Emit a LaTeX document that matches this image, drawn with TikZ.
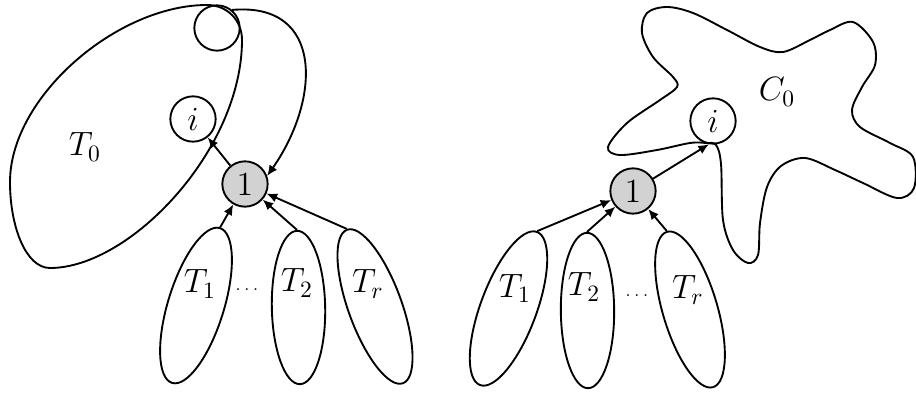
\documentclass[tikz,border=0pt]{standalone}
\usepackage{amsmath,amssymb}
\usepackage{tikz}
\usetikzlibrary{arrows.meta,shapes.geometric}

\tikzset{
    vert/.style={circle, draw, thick, minimum size=0.68cm, inner sep=0pt, font=\Large},
    root/.style={vert, fill=gray!35},
    sub/.style={ellipse, draw, thick, inner sep=0pt},
    lab/.style={font=\Large},
    blob/.style={thick}
}

\begin{document}
\begin{tikzpicture}[>={Latex[length=4.5pt,width=4pt]}]
\begin{scope}[x=0.015cm, y=0.015cm]
    \useasboundingbox (0,0) rectangle (916,392);
    % Left: T_0 holds i and the small top vertex.
    \node[vert] (top) at (217,364) {};
    \node[vert] (ileft) at (193,273) {$i$};
    \node[root] (oneleft) at (245,208) {1};
    \draw[blob] (207,387) .. controls +(-90,0) and +(0,85) .. (10,210)
        .. controls +(0,-45) and +(-24,0) .. (50,124)
        .. controls +(80,0) and +(0,-110) .. (242,352)
        .. controls +(0,20) and +(20,0) .. (207,387) -- cycle;
    \node[lab] (tzero) at (85,245) {$T_0$};
    \draw[thick, ->] (top.50) to[out=5, in=55, looseness=1.4] (oneleft.20);
    \draw[thick, ->] (oneleft) -- (ileft);
    % Subtrees: name/x/y/angle/length/width.
    \foreach \n/\x/\y/\a/\l/\w in {lsa/196/86.5/72.8/2.43/0.84, lsb/298.5/84.5/91.1/2.30/0.8,
        lsc/375/85.5/110/2.45/0.8, rsa/508.5/83.5/69.6/2.45/0.84,
        rsb/587.5/81.5/90.4/2.33/0.8, rsc/690/82.5/106.5/2.43/0.82}{
        \node[sub, rotate=\a, minimum width=\l cm, minimum height=\w cm] (\n) at (\x,\y) {};
    }
    \node[lab] (lta) at (200,108) {$T_1$};
    \node[font=\scriptsize] (ldots) at (247,102) {$\ldots$};
    \node[lab] (ltb) at (297,109) {$T_2$};
    \node[lab] (ltc) at (368,108) {$T_r$};
    \foreach \s in {lsa,lsb,lsc}{
        \draw[thick, ->] (\s.east) -- (oneleft);
    }
    % Right: C_0 holds i.
    \node[vert] (iright) at (713,271) {$i$};
    \node[root] (oneright) at (633,201) {1};
    \draw[blob] plot[smooth cycle, tension=0.55] coordinates {
        (716,247) (721,228) (723,172) (733,142) (748,129) (758,137) (760,169)
        (767,205) (781,226) (805,234) (835,222) (863,209) (897,194) (914,204)
        (913,235) (890,249) (860,265) (852,282) (862,305) (875,327) (873,350)
        (853,370) (830,362) (810,352) (783,340) (760,345) (727,362) (693,379)
        (667,385) (647,379) (642,359) (653,335) (673,315) (677,305) (660,292)
        (627,269) (608,245) (620,237) (657,242) (690,249) (706,249)
    };
    \node[lab] (czero) at (777,300) {$C_0$};
    \draw[thick, ->] (oneright) -- (iright.-100);
    \node[lab] (rta) at (515,104) {$T_1$};
    \node[lab] (rtb) at (584,105) {$T_2$};
    \node[font=\scriptsize] (rdots) at (637,96) {$\ldots$};
    \node[lab] (rtc) at (688,102) {$T_r$};
    \foreach \s in {rsa,rsb,rsc}{
        \draw[thick, ->] (\s.east) -- (oneright);
    }
\end{scope}
\end{tikzpicture}
\end{document}
